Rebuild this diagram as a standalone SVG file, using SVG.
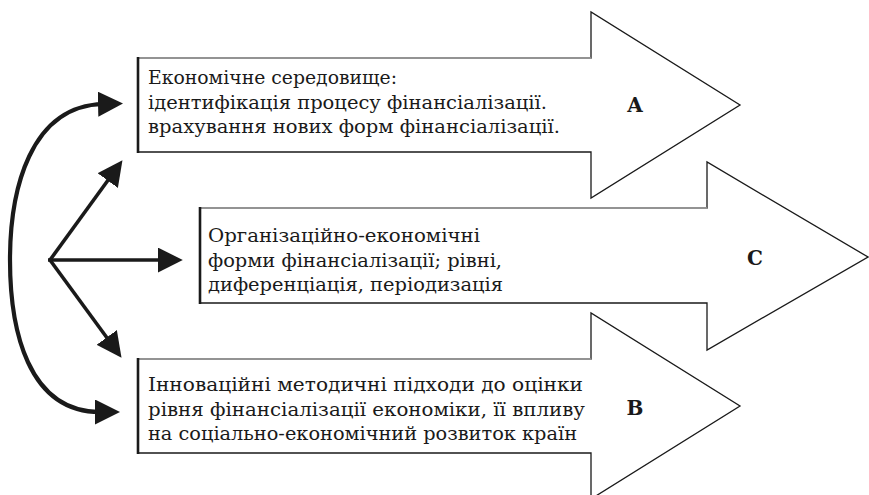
<svg xmlns="http://www.w3.org/2000/svg" width="869" height="495" viewBox="0 0 869 495">
<style>
.body{fill:#fff;stroke:#1a1a1a;stroke-width:1.3;stroke-linejoin:miter}
.top{stroke:#aaa;stroke-width:1.3}
.left{stroke:#1a1a1a;stroke-width:2.6}
.t{font-family:"DejaVu Serif","Liberation Serif","Noto Serif",serif;font-size:18px;fill:#1a1a1a}
.l{font-family:"DejaVu Serif","Liberation Serif",serif;font-size:20px;font-weight:bold;fill:#1a1a1a;text-anchor:middle}
.con{fill:none;stroke:#1a1a1a;stroke-width:3.6}
.curve{fill:none;stroke:#1a1a1a;stroke-width:4.2}
</style>
<defs>
<marker id="ah" viewBox="0 0 10 10" refX="2" refY="5" markerWidth="25" markerHeight="25" markerUnits="userSpaceOnUse" orient="auto-start-reverse">
<path d="M0,0 L10,5 L0,10 z" fill="#1a1a1a"/>
</marker>
</defs>
<rect width="869" height="495" fill="#fff"/>
<g id="nodeA">
<polygon class="body" points="138,58 591,58 591,12 740,105 591,198 591,152 138,152"/>
<line class="top" x1="138" y1="58" x2="591" y2="58"/>
<line class="left" x1="138" y1="57" x2="138" y2="153"/>
<text class="t" x="148" y="84" textLength="249" lengthAdjust="spacingAndGlyphs">Економічне середовище:</text>
<text class="t" x="148" y="109" textLength="399" lengthAdjust="spacingAndGlyphs">ідентифікація процесу фінансіалізації.</text>
<text class="t" x="148" y="133" textLength="412" lengthAdjust="spacingAndGlyphs">врахування нових форм фінансіалізації.</text>
<text class="l" x="635" y="112">A</text>
</g>
<g id="nodeC">
<polygon class="body" points="200,208 707,208 707,162 868,257 707,350 707,303 200,303"/>
<line class="top" x1="200" y1="208" x2="707" y2="208"/>
<line class="left" x1="200" y1="207" x2="200" y2="304"/>
<text class="t" x="208" y="242" textLength="272" lengthAdjust="spacingAndGlyphs">Організаційно-економічні</text>
<text class="t" x="208" y="267" textLength="294" lengthAdjust="spacingAndGlyphs">форми фінансіалізації; рівні,</text>
<text class="t" x="208" y="291" textLength="295" lengthAdjust="spacingAndGlyphs">диференціація, періодизація</text>
<text class="l" x="755" y="265">C</text>
</g>
<g id="nodeB">
<polygon class="body" points="138,359 591,359 591,313 740,406 591,499 591,453 138,453"/>
<line class="top" x1="138" y1="359" x2="591" y2="359"/>
<line class="left" x1="138" y1="358" x2="138" y2="454"/>
<text class="t" x="148" y="391" textLength="435" lengthAdjust="spacingAndGlyphs">Інноваційні методичні підходи до оцінки</text>
<text class="t" x="148" y="416" textLength="437" lengthAdjust="spacingAndGlyphs">рівня фінансіалізації економіки, її впливу</text>
<text class="t" x="148" y="440" textLength="429" lengthAdjust="spacingAndGlyphs">на соціально-економічний розвиток країн</text>
<text class="l" x="635" y="415">B</text>
</g>
<g id="connectors">
<line class="con" x1="50" y1="260" x2="110.7" y2="176.5" marker-end="url(#ah)"/>
<line class="con" x1="48" y1="260" x2="162.8" y2="260" marker-end="url(#ah)"/>
<line class="con" x1="50" y1="260" x2="109.7" y2="341.5" marker-end="url(#ah)"/>
<path class="curve" d="M103,104 C30,106 10,190 10,260 C10,330 28,412 100,412" marker-start="url(#ah)" marker-end="url(#ah)"/>
</g>
</svg>
